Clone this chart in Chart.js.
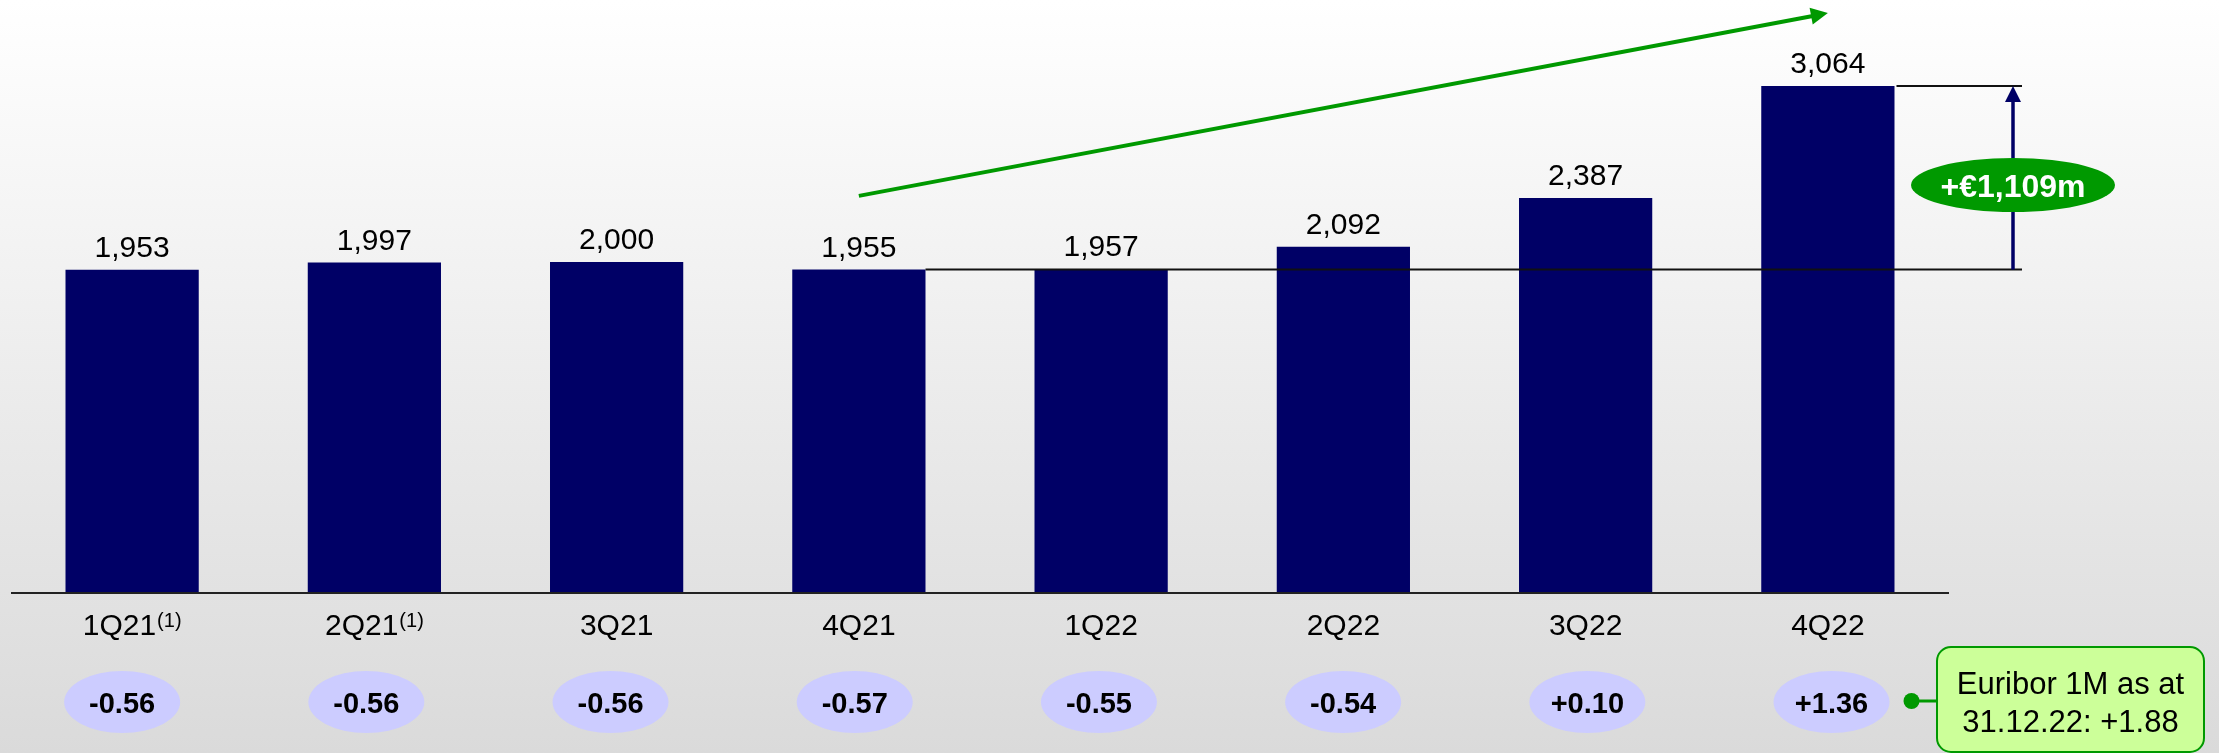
<!DOCTYPE html>
<html><head><meta charset="utf-8">
<script src="https://cdn.jsdelivr.net/npm/chart.js@4/dist/chart.umd.min.js"></script>
<style>html,body{margin:0;padding:0;background:#fff;overflow:hidden}canvas{display:block}</style>
</head><body>
<canvas id="c" width="2219" height="753" style="width:2219px;height:753px"></canvas>
<script>
const categories = ['1Q21','2Q21','3Q21','4Q21','1Q22','2Q22','3Q22','4Q22'];
const footnotes = ['(1)','(1)','','','','','',''];
const values = [1953,1997,2000,1955,1957,2092,2387,3064];
const euribor = [-0.56,-0.56,-0.56,-0.57,-0.55,-0.54,0.10,1.36];
const growthLabel = '+€1,109m';
const calloutLines = ['Euribor 1M as at','31.12.22: +1.88'];
const trendStart = [3, 2400];
const trendEnd = [7, 3505];
const compareFrom = 3, compareTo = 7;

const FONT = "'Liberation Sans', Arial, Helvetica, sans-serif";
const NAVY = '#000066';
const GREEN = '#009900';

function arrowHead(ctx, x1, y1, x2, y2, len, half, color){
  const a = Math.atan2(y2-y1, x2-x1);
  ctx.save();
  ctx.fillStyle = color;
  ctx.beginPath();
  ctx.moveTo(x2, y2);
  ctx.lineTo(x2 - len*Math.cos(a) + half*Math.sin(a), y2 - len*Math.sin(a) - half*Math.cos(a));
  ctx.lineTo(x2 - len*Math.cos(a) - half*Math.sin(a), y2 - len*Math.sin(a) + half*Math.cos(a));
  ctx.closePath();
  ctx.fill();
  ctx.restore();
}

const deco = {
  id: 'deco',
  beforeDraw(chart){
    const ctx = chart.ctx;
    const g = ctx.createLinearGradient(0,0,0,chart.height);
    g.addColorStop(0,'#ffffff');
    g.addColorStop(1,'#dadada');
    ctx.save();
    ctx.fillStyle = g;
    ctx.fillRect(0,0,chart.width,chart.height);
    ctx.restore();
  },
  afterDatasetsDraw(chart){
    const ctx = chart.ctx;
    const xs = chart.scales.x, ys = chart.scales.y;
    const area = chart.chartArea;
    const meta = chart.getDatasetMeta(0);
    ctx.save();
    // axis line
    ctx.strokeStyle = '#222';
    ctx.lineWidth = 2;
    ctx.beginPath();
    ctx.moveTo(area.left, area.bottom);
    ctx.lineTo(area.right, area.bottom);
    ctx.stroke();

    // value labels
    ctx.fillStyle = '#000';
    ctx.textAlign = 'center';
    ctx.textBaseline = 'alphabetic';
    ctx.font = '30px ' + FONT;
    values.forEach((v,i)=>{
      const x = xs.getPixelForValue(i);
      const y = ys.getPixelForValue(v);
      ctx.fillText(v.toLocaleString('en-US'), x, y - 13);
    });

    // category labels with footnote
    values.forEach((v,i)=>{
      const x = xs.getPixelForValue(i);
      ctx.font = '30px ' + FONT;
      const w1 = ctx.measureText(categories[i]).width;
      let w2 = 0;
      if (footnotes[i]) { ctx.font = '20px ' + FONT; w2 = ctx.measureText(footnotes[i]).width + 1; }
      const start = x - (w1 + w2)/2;
      ctx.textAlign = 'left';
      ctx.font = '30px ' + FONT;
      ctx.fillText(categories[i], start, area.bottom + 42);
      if (footnotes[i]) {
        ctx.font = '20px ' + FONT;
        ctx.fillText(footnotes[i], start + w1 + 1, area.bottom + 34);
      }
    });

    // euribor ellipses
    ctx.textAlign = 'center';
    euribor.forEach((e,i)=>{
      const cx = xs.getPixelForValue(i) - 10 + i*1.95;
      const cy = 702;
      ctx.fillStyle = '#ccccff';
      ctx.beginPath();
      ctx.ellipse(cx, cy, 58, 31, 0, 0, Math.PI*2);
      ctx.fill();
      ctx.fillStyle = '#000';
      ctx.font = 'bold 29px ' + FONT;
      const s = (e > 0 ? '+' : (e < 0 ? '-' : '')) + Math.abs(e).toFixed(2);
      ctx.fillText(s, cx, cy + 11);
    });

    // callout connector
    const lastX = xs.getPixelForValue(euribor.length-1) - 10 + (euribor.length-1)*1.95;
    const boxL = 1937, boxR = 2204, boxT = 647, boxB = 752;
    ctx.strokeStyle = GREEN;
    ctx.lineWidth = 3;
    ctx.beginPath();
    ctx.moveTo(lastX + 80, 701);
    ctx.lineTo(boxL, 701);
    ctx.stroke();
    ctx.fillStyle = GREEN;
    ctx.beginPath();
    ctx.arc(lastX + 80, 701, 8, 0, Math.PI*2);
    ctx.fill();
    // callout box
    ctx.fillStyle = '#ccff99';
    ctx.strokeStyle = GREEN;
    ctx.lineWidth = 2;
    ctx.beginPath();
    ctx.roundRect(boxL, boxT, boxR-boxL, boxB-boxT, 14);
    ctx.fill();
    ctx.stroke();
    ctx.fillStyle = '#000';
    ctx.font = '31px ' + FONT;
    ctx.fillText(calloutLines[0], (boxL+boxR)/2, 694);
    ctx.fillText(calloutLines[1], (boxL+boxR)/2, 732);

    // comparison lines
    const bFrom = meta.data[compareFrom], bTo = meta.data[compareTo];
    const yFrom = ys.getPixelForValue(values[compareFrom]);
    const yTo = ys.getPixelForValue(values[compareTo]);
    const ax = 2013;
    ctx.strokeStyle = '#111';
    ctx.lineWidth = 2;
    ctx.beginPath();
    ctx.moveTo(bFrom.x + bFrom.width/2, yFrom);
    ctx.lineTo(2022, yFrom);
    ctx.moveTo(bTo.x + bTo.width/2 + 2, yTo);
    ctx.lineTo(2022, yTo);
    ctx.stroke();
    // vertical arrow
    ctx.strokeStyle = NAVY;
    ctx.lineWidth = 3.5;
    ctx.beginPath();
    ctx.moveTo(ax, yFrom);
    ctx.lineTo(ax, yTo + 14);
    ctx.stroke();
    arrowHead(ctx, ax, yFrom, ax, yTo, 16, 8, NAVY);
    // growth ellipse
    ctx.fillStyle = GREEN;
    ctx.beginPath();
    ctx.ellipse(ax, 185, 102, 27, 0, 0, Math.PI*2);
    ctx.fill();
    ctx.fillStyle = '#fff';
    ctx.font = 'bold 32px ' + FONT;
    ctx.fillText(growthLabel, ax, 197);

    // trend arrow
    const tx1 = xs.getPixelForValue(trendStart[0]), ty1 = ys.getPixelForValue(trendStart[1]);
    const tx2 = xs.getPixelForValue(trendEnd[0]), ty2 = ys.getPixelForValue(trendEnd[1]);
    const ang = Math.atan2(ty2-ty1, tx2-tx1);
    ctx.strokeStyle = GREEN;
    ctx.lineWidth = 4;
    ctx.beginPath();
    ctx.moveTo(tx1, ty1);
    ctx.lineTo(tx2 - 14*Math.cos(ang), ty2 - 14*Math.sin(ang));
    ctx.stroke();
    arrowHead(ctx, tx1, ty1, tx2, ty2, 17, 8.5, GREEN);
    ctx.restore();
  }
};

new Chart(document.getElementById('c'), {
  type: 'bar',
  data: {
    labels: categories,
    datasets: [{
      data: values,
      backgroundColor: NAVY,
      borderWidth: 0,
      barPercentage: 0.55,
      categoryPercentage: 1.0
    }]
  },
  options: {
    responsive: false,
    animation: false,
    events: [],
    layout: { padding: { left: 11, right: 270, top: 0, bottom: 160 } },
    plugins: { legend: { display: false }, tooltip: { enabled: false } },
    scales: {
      x: { display: false, grid: { display: false } },
      y: { display: false, min: 0, max: 3584, grid: { display: false } }
    }
  },
  plugins: [deco]
});
</script>
</body></html>
